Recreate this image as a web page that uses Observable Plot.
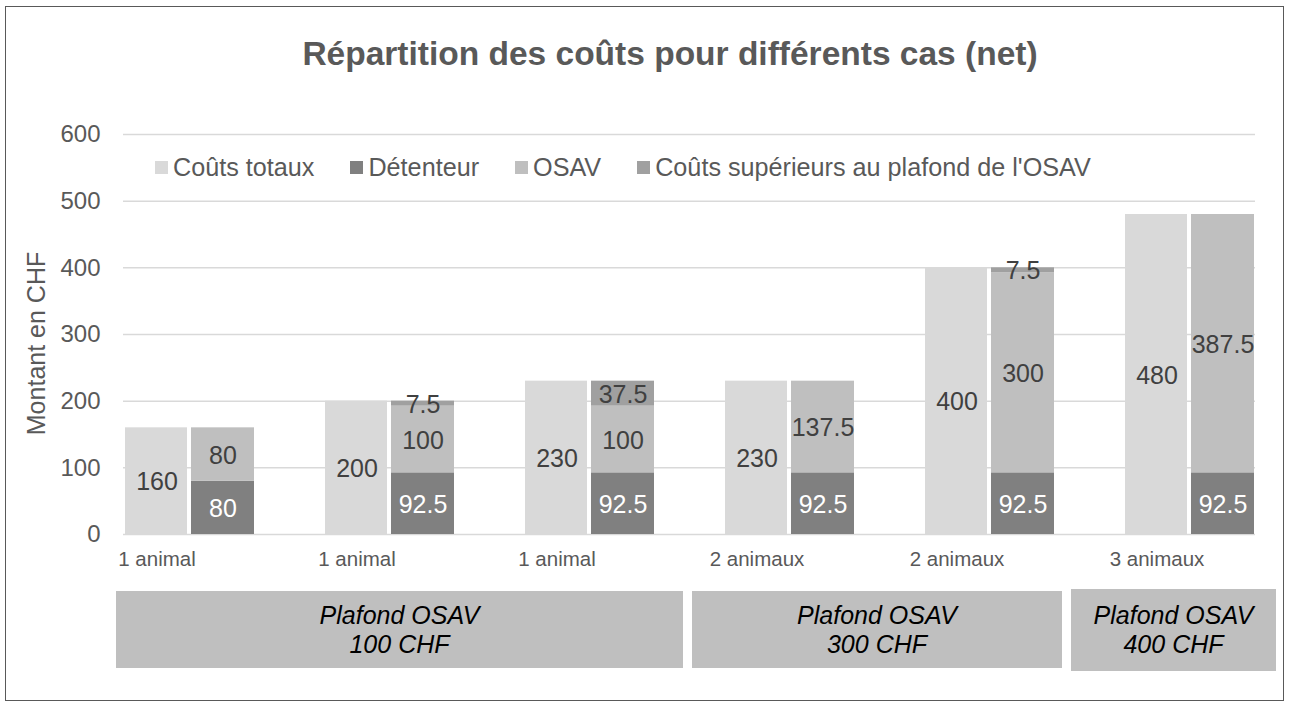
<!DOCTYPE html>
<html>
<head>
<meta charset="utf-8">
<script src="https://cdn.jsdelivr.net/npm/d3@7"></script>
<script src="https://cdn.jsdelivr.net/npm/@observablehq/plot@0.6"></script>
<style>
  html, body { margin: 0; padding: 0; background: #fff; }
  body { font-family: "Liberation Sans", Arial, sans-serif; }
  #chart { position: relative; width: 1290px; height: 709px; overflow: hidden; }
  #border { position: absolute; left: 5px; top: 6px; width: 1279px; height: 695px; border: 1.5px solid #595959; box-sizing: border-box; }
  #title { position: absolute; left: 0; width: 1340px; top: 34px; text-align: center; font-weight: bold; font-size: 33.5px; color: #595959; line-height: 40px; }
  #plot { position: absolute; left: 0; top: 0; }
  #legend { position: absolute; left: 155px; top: 152px; display: flex; font-size: 25.2px; color: #595959; line-height: 30px; }
  .li { display: flex; align-items: center; margin-right: 36px; }
  .sw { width: 13px; height: 13px; margin-right: 5px; }
  .box { position: absolute; background: #bfbfbf; display: flex; flex-direction: column; justify-content: center; align-items: center; font-style: italic; font-size: 25px; line-height: 29px; color: #000; }
</style>
</head>
<body>
<div id="chart">
  <div id="border"></div>
  <div id="plot"></div>
  <div id="title"></div>
  <div id="legend"></div>
</div>
<script>
// ---- data ----
const caseLabels = ["1 animal", "1 animal", "1 animal", "2 animaux", "2 animaux", "3 animaux"];
const totalCosts = [160, 200, 230, 230, 400, 480];
const detenteur = [80, 92.5, 92.5, 92.5, 92.5, 92.5];
const osav = [80, 100, 100, 137.5, 300, 387.5];
const excess = [0, 7.5, 37.5, 0, 7.5, 0];
const seriesNames = ["Coûts totaux", "Détenteur", "OSAV", "Coûts supérieurs au plafond de l'OSAV"];
const seriesColors = ["#d9d9d9", "#808080", "#bfbfbf", "#a0a0a0"];
const yTicks = [0, 100, 200, 300, 400, 500, 600];
const plafondLabels = [["Plafond OSAV", "100 CHF"], ["Plafond OSAV", "300 CHF"], ["Plafond OSAV", "400 CHF"]];
const titleText = "Répartition des coûts pour différents cas (net)";
const yLabel = "Montant en CHF";

// ---- derived tables ----
const caseIdx = caseLabels.map((_, i) => i);
const totals = caseIdx.map(i => ({c: i, series: seriesNames[0], value: totalCosts[i]}));
const stacked = [];
caseIdx.forEach(i => {
  let base = 0;
  [[seriesNames[1], detenteur[i]], [seriesNames[2], osav[i]], [seriesNames[3], excess[i]]].forEach(([s, v]) => {
    stacked.push({c: i, series: s, value: v, y1: base, y2: base + v, mid: base + v / 2});
    base += v;
  });
});
const stackedShown = stacked.filter(d => d.value > 0);
const fmt = v => String(v);

// ---- layout ----
const W = 1290, H = 580;
const textColor = "#595959", labelColor = "#404040";

const plot = Plot.plot({
  width: W,
  height: H,
  marginLeft: 123,
  marginRight: 35,
  marginTop: 134,
  marginBottom: 46,
  style: {fontFamily: "Liberation Sans, Arial, sans-serif", fontSize: "24px", color: textColor, background: "transparent", overflow: "visible"},
  x: {type: "band", domain: caseIdx, paddingInner: 0.355, paddingOuter: 0.0075, axis: null},
  y: {domain: [0, 600], axis: null},
  color: {type: "ordinal", domain: seriesNames, range: seriesColors},
  marks: [
    Plot.gridY(yTicks, {stroke: "#d9d9d9", strokeOpacity: 1, strokeWidth: 1.5}),
    Plot.barY(totals, {x: "c", y: "value", fill: "series", insetRight: 67}),
    Plot.barY(stackedShown, {x: "c", y1: "y1", y2: "y2", fill: "series", insetLeft: 66}),
    Plot.text(totals, {x: "c", y: d => d.value / 2, text: d => fmt(d.value), dx: -33, dy: 1, fill: labelColor, fontSize: 25, lineAnchor: "middle"}),
    Plot.text(stackedShown, {x: "c", y: "mid", text: d => fmt(d.value), dx: 33, dy: 1, fill: d => d.series === seriesNames[1] ? "#ffffff" : labelColor, fontSize: 25, lineAnchor: "middle"}),
    Plot.axisY(yTicks, {tickSize: 0, tickPadding: 23, fontSize: 24, fill: textColor, label: null}),
    Plot.axisX({tickSize: 0, tickPadding: 17, dx: -33, fontSize: 20.5, fill: textColor, tickFormat: i => caseLabels[i], label: null}),
    Plot.text([yLabel], {frameAnchor: "left", dx: -87, dy: 9, rotate: -90, fontSize: 25, fill: textColor, textAnchor: "middle", lineAnchor: "middle"})
  ]
});
document.getElementById("plot").appendChild(plot);

document.getElementById("title").textContent = titleText;

const legend = document.getElementById("legend");
seriesNames.forEach((s, i) => {
  const item = document.createElement("div");
  item.className = "li";
  const sw = document.createElement("div");
  sw.className = "sw";
  sw.style.background = seriesColors[i];
  const t = document.createElement("span");
  t.textContent = s;
  item.appendChild(sw);
  item.appendChild(t);
  legend.appendChild(item);
});

// group annotation boxes below the categories
const boxGeom = [
  {left: 116, top: 591, width: 567, height: 77},
  {left: 692, top: 591, width: 370, height: 77},
  {left: 1071, top: 589, width: 205, height: 82}
];
plafondLabels.forEach((lines, i) => {
  const b = document.createElement("div");
  b.className = "box";
  const g = boxGeom[i];
  Object.assign(b.style, {left: g.left + "px", top: g.top + "px", width: g.width + "px", height: g.height + "px"});
  lines.forEach(l => { const s = document.createElement("div"); s.textContent = l; b.appendChild(s); });
  document.getElementById("chart").appendChild(b);
});
</script>
</body>
</html>
